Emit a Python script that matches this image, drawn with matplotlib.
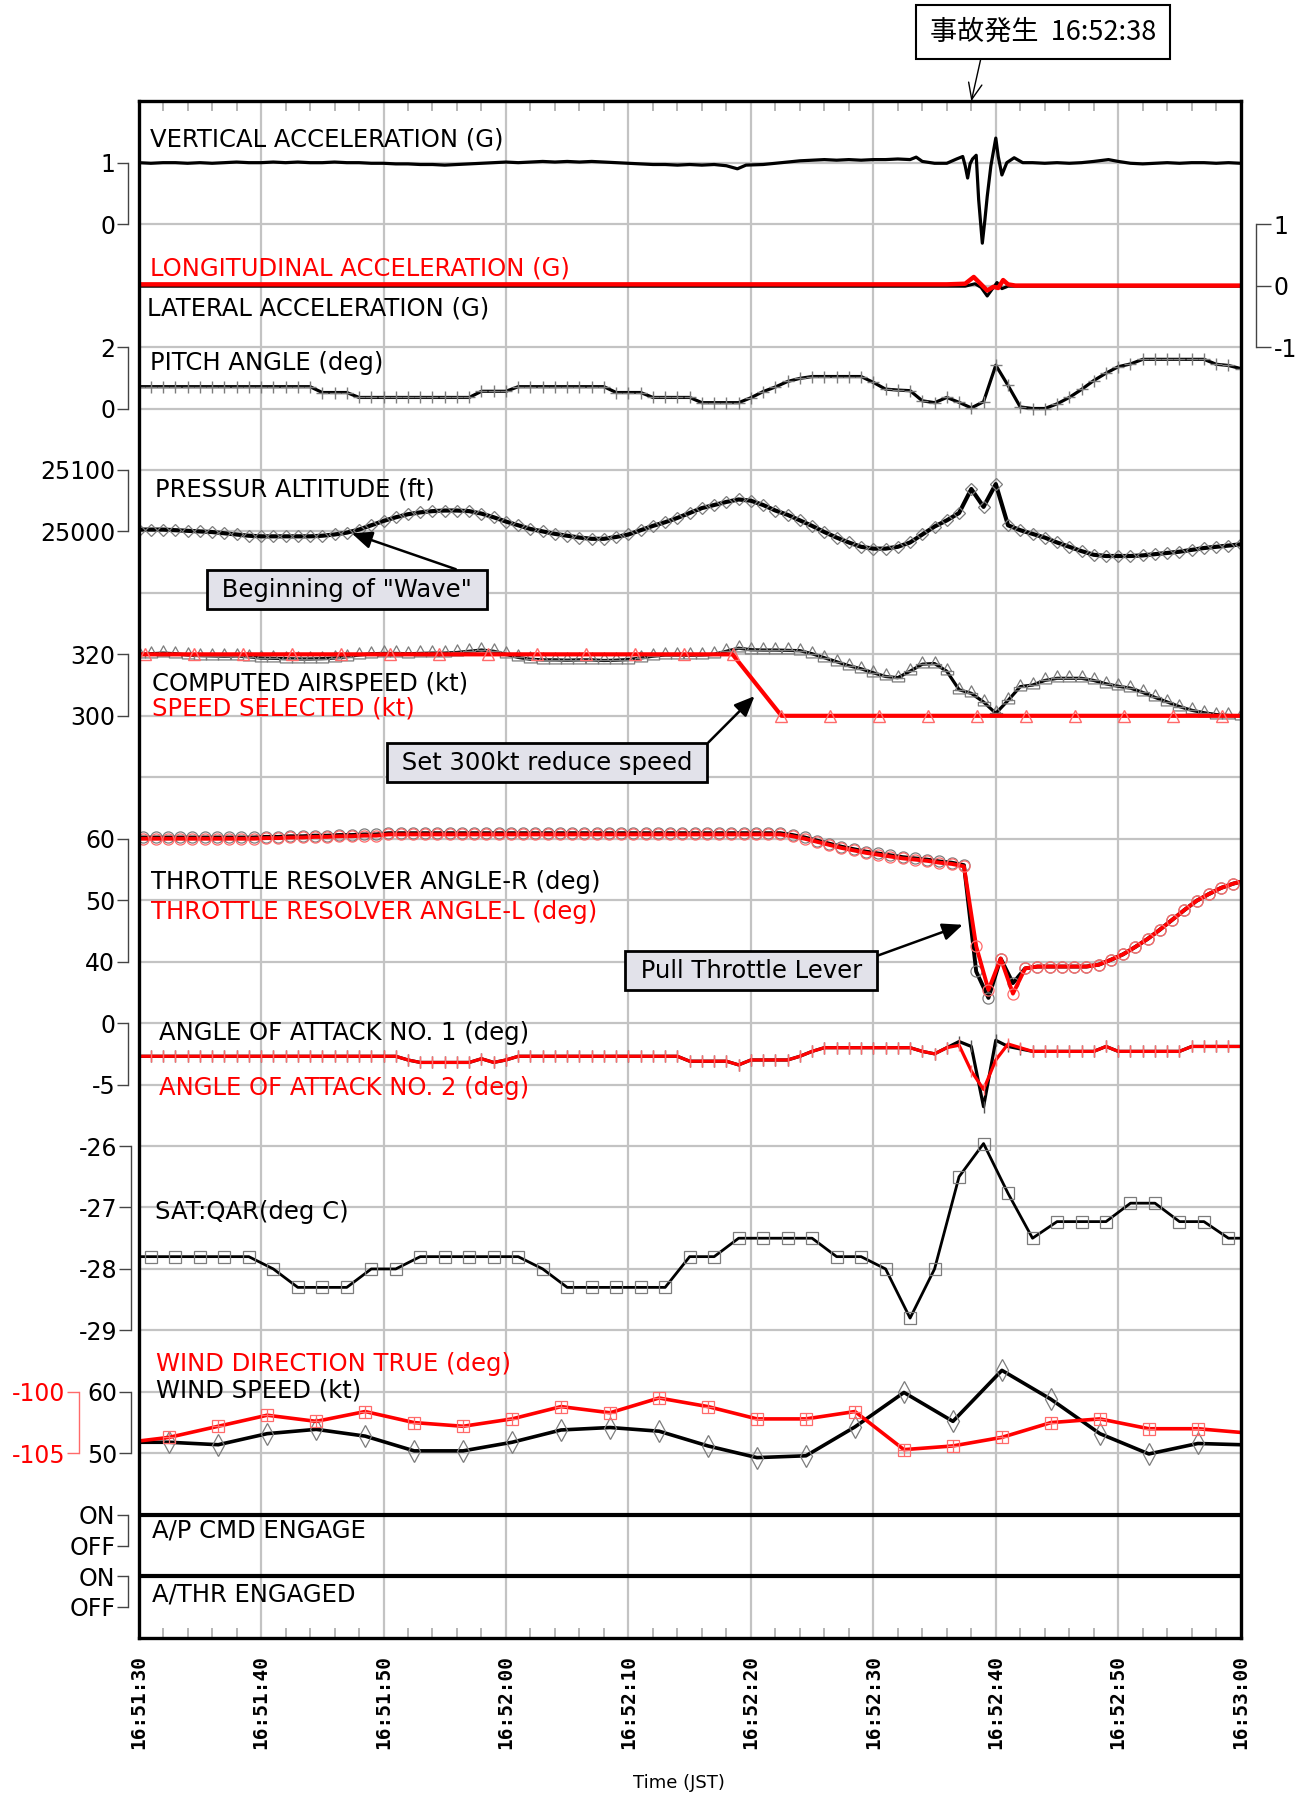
import numpy as np
import matplotlib
matplotlib.use("Agg")
import matplotlib.pyplot as plt
from matplotlib.path import Path
from matplotlib.ticker import MultipleLocator

plt.rcParams['font.family'] = ['DejaVu Sans']

# ---------------- data ----------------
TIME_TICKS = [0, 10, 20, 30, 40, 50, 60, 70, 80, 90]
TIME_LABELS = ["16:51:30", "16:51:40", "16:51:50", "16:52:00", "16:52:10",
               "16:52:20", "16:52:30", "16:52:40", "16:52:50", "16:53:00"]
EVENT_T = 68
EVENT_LABEL = "事故発生  16:52:38"

# vertical acceleration (G)
VA_T = [0,1,2,3,4,5,6,7,8,9,10,11,12,13,14,15,16,17,18,19,20,21,22,23,24,25,26,27,28,29,
        30,31,32,33,34,35,36,37,38,39,40,41,42,43,44,45,46,47,48,48.9,49.6,51,52,53,54,55,
        56,57,58,59,60,61,62,63,63.5,64,65,66,66.8,67.3,67.5,67.7,67.9,68.1,68.4,68.6,68.9,
        69.1,69.3,69.6,70.0,70.2,70.5,70.9,71.5,72.2,73,74,75,76,77,78,79.2,80,81,82,83,84,
        85,86,87,88,89,90]
VA = [1.00,0.99,1.00,1.00,0.99,1.00,0.99,1.00,1.01,1.00,
      1.00,1.01,1.00,1.01,1.00,1.00,1.01,1.00,1.00,0.99,
      0.99,0.98,0.98,0.97,0.97,0.96,0.97,0.98,0.99,1.00,
      1.01,1.00,1.01,1.02,1.01,1.02,1.01,1.02,1.01,1.00,
      0.99,0.98,0.97,0.97,0.96,0.97,0.96,0.97,0.95,0.90,0.96,
      0.97,0.99,1.01,1.03,1.04,1.05,1.04,1.05,1.04,1.05,1.05,1.06,1.05,
      1.09,1.02,0.99,0.99,
      1.06,1.10,0.95,0.75,0.98,1.06,1.12,0.40,-0.31,0.05,0.45,0.95,1.40,1.10,0.80,1.00,1.08,1.00,
      1.00,0.99,1.00,0.99,1.00,1.02,1.05,
      1.02,0.99,0.98,0.99,1.00,0.99,1.00,1.00,0.99,1.00,0.99]

# longitudinal (red) and lateral (black) acceleration (G)
LONG_T = [0, 20, 40, 60, 66, 67.5, 68.2, 68.7, 69.3, 69.8, 70.2, 70.6, 71.0, 71.6, 75, 90]
LONG = [0.02, 0.02, 0.02, 0.02, 0.02, 0.03, 0.14, 0.04, -0.08, -0.02, -0.04, 0.09, 0.02, 0.0, 0.0, 0.0]
LAT_T = [0, 30, 60, 67.5, 68.3, 68.8, 69.3, 69.7, 70.1, 70.5, 71, 90]
LAT = [-0.01, -0.01, -0.01, -0.01, 0.03, -0.03, -0.17, -0.06, 0.05, -0.05, -0.01, -0.01]

# 1-second samples
T1 = np.arange(0, 91, 1)
PITCH = [0.71,0.71,0.71,0.71,0.71,0.71,0.71,0.71,0.71,0.71,0.71,0.71,0.71,0.71,0.71,
         0.52,0.52,0.52,
         0.36,0.36,0.36,0.36,0.36,0.36,0.36,0.36,0.36,0.36,
         0.56,0.56,0.56,
         0.71,0.71,0.71,0.71,0.71,0.71,0.71,0.71,
         0.52,0.52,0.52,
         0.36,0.36,0.36,0.36,
         0.19,0.19,0.19,0.19,
         0.35,0.55,0.70,0.88,0.98,1.04,1.04,1.04,1.04,1.04,0.85,0.63,0.60,0.58,0.25,0.19,
         0.36,0.20,0.02,0.22,1.41,0.75,0.05,0.0,0.0,0.15,0.36,0.62,0.91,1.15,1.36,1.45,
         1.60,1.60,1.60,1.60,1.60,1.60,1.44,1.40,1.30]

ALT = [25003,25003,25003,25002,25001,25000,24999,24997,24995,24993,
       24992,24992,24992,24992,24992,24993,24995,24998,25003,25010,
       25017,25023,25028,25031,25033,25034,25034,25033,25029,25023,
       25016,25010,25004,25000,24996,24993,24990,24988,24988,24991,
       24995,25002,25009,25015,25022,25030,25038,25043,25048,25052,
       25050,25043,25034,25027,25018,25009,24999,24990,24982,24975,
       24972,24972,24975,24982,24995,25008,25018,25030,25069,25040,
       25077,25010,25002,24996,24990,24982,24975,24968,24962,24960,
       24960,24960,24961,24963,24965,24967,24970,24973,24975,24977,24979]

CAS = [320.0,320.2,320.4,320.2,319.8,319.6,319.5,319.4,319.5,319.2,
       318.8,318.7,318.6,318.5,318.5,318.6,318.8,319.2,319.8,320.2,
       320.3,320.3,320.2,320.3,320.4,320.4,320.6,321.0,321.4,321.0,
       320.0,319.0,318.4,318.2,318.2,318.1,318.2,318.2,318.0,318.1,
       318.3,318.8,319.4,319.8,319.8,319.7,319.8,320.0,321.0,322.0,
       321.5,321.4,321.4,321.3,321.2,320.2,318.9,317.6,316.3,315.3,
       314.0,312.8,312.4,314.5,316.8,317.0,314.5,308.5,307.3,304.5,
       300.8,305.0,309.5,310.0,311.5,312.2,312.2,312.2,311.5,310.4,
       309.6,309.0,307.6,306.0,304.5,303.0,301.8,301.0,300.4,300.1,300.0]

SPD_T = [0, 0.5, 4.5, 8.5, 12.5, 16.5, 20.5, 24.5, 28.5, 32.5, 36.5, 40.5, 44.5, 48.5,
         52.5, 56.5, 60.5, 64.5, 68.5, 72.5, 76.5, 80.5, 84.5, 88.5, 90]
SPD = [320, 320, 320, 320, 320, 320, 320, 320, 320, 320, 320, 320, 320, 320,
       300, 300, 300, 300, 300, 300, 300, 300, 300, 300, 300]

# throttle resolver angle, samples at k+0.4 s plus the two chart edges
TRA_T = np.concatenate([[0], np.arange(0.4, 90, 1.0), [90]])
TRA_R = [60.2,
         60.2,60.2,60.2,60.2,60.2,60.2,60.2,60.2,60.2,60.2,
         60.3,60.3,60.4,60.4,60.5,60.5,60.6,60.6,60.7,60.7,
         60.9,60.9,60.9,60.9,60.9,60.9,60.9,60.9,60.9,60.9,
         60.9,60.9,60.9,60.9,60.9,60.9,60.9,60.9,60.9,60.9,
         60.9,60.9,60.9,60.9,60.9,60.9,60.9,60.9,60.9,60.9,
         60.9,60.9,60.9,60.6,60.2,59.7,59.2,58.7,58.3,57.9,
         57.6,57.3,57.0,56.8,56.6,56.3,56.1,55.7,38.4,34.1,
         40.5,36.5,38.9,39.2,39.2,39.2,39.2,39.2,39.5,40.3,
         41.2,42.4,43.7,45.2,46.8,48.4,49.9,51.0,52.0,52.7,
         53.0]
TRA_L = [60.0,
         60.0,60.0,60.0,60.0,60.0,60.0,60.0,60.0,60.0,60.0,
         60.1,60.1,60.2,60.2,60.3,60.3,60.4,60.4,60.5,60.5,
         60.7,60.7,60.7,60.7,60.7,60.7,60.7,60.7,60.7,60.7,
         60.7,60.7,60.7,60.7,60.7,60.7,60.7,60.7,60.7,60.7,
         60.7,60.7,60.7,60.7,60.7,60.7,60.7,60.7,60.7,60.7,
         60.7,60.7,60.7,60.4,60.0,59.5,59.0,58.5,58.1,57.7,
         57.4,57.1,56.8,56.6,56.4,56.1,55.9,55.5,42.5,35.4,
         40.5,34.8,38.9,39.2,39.2,39.2,39.2,39.2,39.5,40.3,
         41.2,42.4,43.7,45.2,46.8,48.4,49.9,51.0,52.0,52.7,
         53.0]

AOA1 = [-2.7,-2.7,-2.7,-2.7,-2.7,-2.7,-2.7,-2.7,-2.7,-2.7,-2.7,-2.7,-2.7,-2.7,-2.7,-2.7,
        -2.7,-2.7,-2.7,-2.7,-2.7,-2.7,
        -3.0,-3.2,-3.2,-3.2,-3.2,-3.2,-2.9,-3.2,-3.0,
        -2.7,-2.7,-2.7,-2.7,-2.7,-2.7,-2.7,-2.7,-2.7,-2.7,-2.7,-2.7,-2.7,-2.7,
        -3.1,-3.1,-3.1,-3.1,-3.4,-3.0,-3.0,-3.0,-3.0,-2.7,-2.3,
        -2.0,-2.0,-2.0,-2.0,-2.0,-2.0,-2.0,-2.0,
        -2.3,-2.5,-2.0,-1.5,-1.9,-6.8,-1.4,-1.9,-2.1,
        -2.3,-2.3,-2.3,-2.3,-2.3,-2.3,-1.9,
        -2.3,-2.3,-2.3,-2.3,-2.3,-2.3,
        -1.9,-1.9,-1.9,-1.9,-1.9]
AOA2 = [-2.7,-2.7,-2.7,-2.7,-2.7,-2.7,-2.7,-2.7,-2.7,-2.7,-2.7,-2.7,-2.7,-2.7,-2.7,-2.7,
        -2.7,-2.7,-2.7,-2.7,-2.7,-2.7,
        -3.0,-3.2,-3.2,-3.2,-3.2,-3.2,-2.9,-3.2,-3.0,
        -2.7,-2.7,-2.7,-2.7,-2.7,-2.7,-2.7,-2.7,-2.7,-2.7,-2.7,-2.7,-2.7,-2.7,
        -3.1,-3.1,-3.1,-3.1,-3.4,-3.0,-3.0,-3.0,-3.0,-2.7,-2.3,
        -2.0,-2.0,-2.0,-2.0,-2.0,-2.0,-2.0,-2.0,
        -2.3,-2.5,-2.0,-1.8,-3.9,-5.4,-3.0,-1.7,-2.0,
        -2.3,-2.3,-2.3,-2.3,-2.3,-2.3,-1.9,
        -2.3,-2.3,-2.3,-2.3,-2.3,-2.3,
        -1.9,-1.9,-1.9,-1.9,-1.9]

SAT_T = np.concatenate([[0], np.arange(1, 90, 2), [90]])
SAT = [-27.8,
       -27.8,-27.8,-27.8,-27.8,-27.8,-28.0,-28.3,-28.3,-28.3,-28.0,
       -28.0,-27.8,-27.8,-27.8,-27.8,-27.8,-28.0,-28.3,-28.3,-28.3,
       -28.3,-28.3,-27.8,-27.8,-27.5,-27.5,-27.5,-27.5,-27.8,-27.8,
       -28.0,-28.8,-28.0,-26.5,-25.96,-26.77,-27.5,-27.23,-27.23,-27.23,
       -26.93,-26.93,-27.23,-27.23,-27.5,
       -27.5]

WIND_T = np.concatenate([[0], np.arange(2.5, 88, 4), [90]])
WSPD = [51.8, 51.8, 51.4, 53.2, 53.9, 52.8, 50.4, 50.4, 51.8, 53.8, 54.2, 53.6,
        51.2, 49.3, 49.6, 54.3, 59.9, 55.2, 63.5, 58.8, 53.2, 49.9, 51.6, 51.4]
WDIR = [-104.0, -103.7, -102.8, -101.9, -102.4, -101.6, -102.5, -102.8, -102.2, -101.2,
        -101.7, -100.5, -101.2, -102.2, -102.2, -101.6, -104.7, -104.4, -103.7, -102.5,
        -102.2, -103.0, -103.0, -103.3]

DISC_T = [0, 90]
AP_CMD = [1, 1]
ATHR = [1, 1]

# ---------------- figure ----------------
W, H = 1314, 1796
fig = plt.figure(figsize=(W / 100, H / 100), dpi=100)
RECT = [0.10548, 0.08814, 0.83874, 0.85551]
NROW = 25
FS_LBL = 17.5
FS_TICK = 17
GRAY = '#7c7c7c'
RED = '#ff0000'
PINK = '#ff6a6a'

main = fig.add_axes(RECT, label='main')
main.set_xlim(0, 90)
main.set_ylim(NROW, 0)
main.set_yticks(np.arange(1, NROW))
main.tick_params(axis='y', length=0, labelleft=False)
main.set_xticks(TIME_TICKS)
main.set_xticklabels(TIME_LABELS, rotation=90, fontfamily='DejaVu Sans Mono',
                     fontweight='bold', fontsize=14)
main.xaxis.set_minor_locator(MultipleLocator(2))
main.tick_params(axis='x', which='major', length=0, pad=12.5)
main.tick_params(axis='x', which='minor', direction='in', length=7.5, width=1.2,
                 color='#a9a9a9', top=True, bottom=True)
main.grid(True, which='major', color='#c3c3c3', lw=1.6)
for s in main.spines.values():
    s.set_visible(False)

_n = [0]


def chan_axes(ka, va, kb, vb):
    _n[0] += 1
    ax = fig.add_axes(RECT, label='ch%d' % _n[0])
    fa = (NROW - ka) / NROW
    fb = (NROW - kb) / NROW
    s = (va - vb) / (fa - fb)
    lo = va - s * fa
    ax.set_ylim(lo, lo + s)
    ax.set_xlim(0, 90)
    ax.patch.set_visible(False)
    for sp in ax.spines.values():
        sp.set_visible(False)
    ax.tick_params(axis='x', which='both', bottom=False, top=False, labelbottom=False)
    ax.set_yticks([])
    return ax


def bracket(ax, ticks, labels, color='black', side='left', offset_px=11, length_px=11,
            spcolor='#444444'):
    sp = ax.spines[side]
    sp.set_visible(True)
    sp.set_position(('outward', offset_px * 0.72))
    sp.set_bounds(min(ticks), max(ticks))
    sp.set_color(spcolor)
    sp.set_linewidth(1.0)
    ax.yaxis.set_ticks_position(side)
    ax.set_yticks(ticks)
    ax.set_yticklabels(labels)
    ax.tick_params(axis='y', direction='out', length=length_px * 0.72, width=1.0,
                   color=spcolor, labelcolor=color, labelsize=FS_TICK, pad=1)


def label(x, y, s, color='black'):
    main.text(x, y, s, transform=main.transAxes, ha='left', va='center',
              fontsize=FS_LBL, color=color)


# vertical acceleration
ax_va = chan_axes(1, 1, 2, 0)
bracket(ax_va, [0, 1], ['0', '1'])
ax_va.plot(VA_T, VA, color='black', lw=2.3, solid_joinstyle='round')
label(0.0099, 0.9752, 'VERTICAL ACCELERATION (G)')

# longitudinal / lateral acceleration (right scale)
ax_acc = chan_axes(2, 1, 3, 0)
bracket(ax_acc, [-1, 0, 1], ['-1', '0', '1'], side='right', offset_px=15, length_px=15)
ax_acc.tick_params(axis='y', labelleft=False, labelright=True, pad=2)
ax_acc.plot(LAT_T, LAT, color='black', lw=2.2)
ax_acc.plot(LONG_T, LONG, color=RED, lw=3.2)
label(0.0099, 0.8913, 'LONGITUDINAL ACCELERATION (G)', RED)
label(0.0080, 0.8652, 'LATERAL ACCELERATION (G)')

# pitch
ax_p = chan_axes(4, 2, 5, 0)
bracket(ax_p, [0, 2], ['0', '2'])
ax_p.plot(T1, PITCH, color='black', lw=2.3, marker='+', ms=8, mec=GRAY, mew=1.0)
label(0.0099, 0.8294, 'PITCH ANGLE (deg)')

# pressure altitude
ax_alt = chan_axes(6, 25100, 7, 25000)
bracket(ax_alt, [25000, 25100], ['25000', '25100'])
ax_alt.plot(T1, ALT, color='black', lw=3.0, marker='D', ms=6.5, mfc='none', mec=GRAY, mew=0.9)
label(0.0149, 0.7470, 'PRESSUR ALTITUDE (ft)')

# airspeed
cas_marker = Path([(-0.55, 0), (0, 1), (0.55, 0), (-0.55, 0),
                   (-0.8, 0), (0.8, 0), (0.8, -0.45), (-0.8, -0.45), (-0.8, 0)],
                  [Path.MOVETO, Path.LINETO, Path.LINETO, Path.CLOSEPOLY,
                   Path.MOVETO, Path.LINETO, Path.LINETO, Path.LINETO, Path.CLOSEPOLY])
ax_cas = chan_axes(9, 320, 10, 300)
bracket(ax_cas, [300, 320], ['300', '320'])
ax_cas.plot(T1, CAS, color='black', lw=2.3, marker=cas_marker, ms=11, mfc='none',
            mec=GRAY, mew=0.9)
ax_cas.plot(SPD_T, SPD, color=RED, lw=3.0, marker='^', ms=9, mfc='none', mec=PINK,
            mew=1.0, markevery=slice(1, -1))
label(0.0125, 0.6211, 'COMPUTED AIRSPEED (kt)')
label(0.0125, 0.6049, 'SPEED SELECTED (kt)', RED)

# throttle
ax_tra = chan_axes(12, 60, 13, 50)
bracket(ax_tra, [40, 50, 60], ['40', '50', '60'])
ax_tra.plot(TRA_T, TRA_R, color='black', lw=2.8, marker='o', ms=8, mfc='none', mec=GRAY,
            mew=0.9, markevery=slice(1, -1))
ax_tra.plot(TRA_T, TRA_L, color=RED, lw=2.8, marker='o', ms=8, mfc='none', mec=PINK,
            mew=0.9, markevery=slice(1, -1))
label(0.0110, 0.4920, 'THROTTLE RESOLVER ANGLE-R (deg)')
label(0.0110, 0.4725, 'THROTTLE RESOLVER ANGLE-L (deg)', RED)

# angle of attack
ax_aoa = chan_axes(15, 0, 16, -5)
bracket(ax_aoa, [-5, 0], ['-5', '0'])
ax_aoa.plot(T1, AOA1, color='black', lw=2.3, marker='|', ms=8.5, mec='#555555', mew=1.0)
ax_aoa.plot(T1, AOA2, color=RED, lw=2.3, marker='|', ms=8.5, mec=PINK, mew=1.0)
label(0.0185, 0.3934, 'ANGLE OF ATTACK NO. 1 (deg)')
label(0.0185, 0.3576, 'ANGLE OF ATTACK NO. 2 (deg)', RED)

# SAT
ax_sat = chan_axes(17, -26, 18, -27)
bracket(ax_sat, [-29, -28, -27, -26], ['-29', '-28', '-27', '-26'], offset_px=8, length_px=12)
ax_sat.plot(SAT_T, SAT, color='black', lw=2.0, marker='s', ms=8.5, mfc='none', mec=GRAY,
            mew=0.9, markevery=slice(1, -1))
label(0.0149, 0.2773, 'SAT:QAR(deg C)')

# wind
ax_ws = chan_axes(21, 60, 22, 50)
bracket(ax_ws, [50, 60], ['50', '60'], offset_px=8, length_px=12)
ax_wd = chan_axes(21, -100, 22, -105)
bracket(ax_wd, [-105, -100], ['-105', '-100'], color=RED, offset_px=60, length_px=12,
        spcolor=PINK)
ax_ws.plot(WIND_T, WSPD, color='black', lw=2.6, marker='d', ms=11, mfc='none', mec=GRAY,
           mew=0.9, markevery=slice(1, -1))
ax_wd.plot(WIND_T, WDIR, color=RED, lw=2.6, marker='s', ms=9, mfc='none', mec=PINK,
           mew=0.9, markevery=slice(1, -1))
ax_wd.plot(WIND_T[1:-1], WDIR[1:-1], ls='none', marker='+', ms=9, mec=PINK, mew=0.9)
label(0.0156, 0.1781, 'WIND DIRECTION TRUE (deg)', RED)
label(0.0156, 0.1608, 'WIND SPEED (kt)')

# discretes
ax_ap = chan_axes(23, 1, 23.5, 0)
bracket(ax_ap, [0, 1], ['OFF', 'ON'])
ax_ap.plot(DISC_T, AP_CMD, color='black', lw=3.0)
label(0.0125, 0.0696, 'A/P CMD ENGAGE')
ax_at = chan_axes(24, 1, 24.5, 0)
bracket(ax_at, [0, 1], ['OFF', 'ON'])
ax_at.plot(DISC_T, ATHR, color='black', lw=3.0)
label(0.0125, 0.0284, 'A/THR ENGAGED')

# ---------------- top overlay: frame & annotations ----------------
top = fig.add_axes(RECT, label='top')
top.set_xlim(0, 90)
top.set_ylim(NROW, 0)
top.patch.set_visible(False)
top.set_xticks([])
top.set_yticks([])
for s in top.spines.values():
    s.set_linewidth(2.4)
    s.set_color('black')

box_kw = dict(boxstyle='square,pad=0.3', fc='#e2e2ea', ec='black', lw=2.0)
arr_kw = dict(arrowstyle='-|>,head_length=0.7,head_width=0.3', color='black', lw=1.8,
              shrinkA=0, shrinkB=0, relpos=(1, 1))

top.annotate(' Beginning of "Wave" ', xy=(17.4, 24997), xycoords=ax_alt.transData,
             xytext=(0.1891, 0.6822), textcoords='axes fraction', ha='center', va='center',
             fontsize=FS_LBL, bbox=box_kw, arrowprops=arr_kw, annotation_clip=False)
top.annotate(' Set 300kt reduce speed ', xy=(50.3, 306.4), xycoords=ax_cas.transData,
             xytext=(0.3706, 0.5695), textcoords='axes fraction', ha='center', va='center',
             fontsize=FS_LBL, bbox=box_kw, arrowprops=arr_kw, annotation_clip=False)
top.annotate(' Pull Throttle Lever ', xy=(67.3, 46.0), xycoords=ax_tra.transData,
             xytext=(0.5557, 0.4342), textcoords='axes fraction', ha='center', va='center',
             fontsize=FS_LBL, bbox=box_kw, arrowprops=arr_kw, annotation_clip=False)

top.annotate(EVENT_LABEL, xy=(EVENT_T, 0), xycoords='data',
             xytext=(0.7938, 0.9822), textcoords='figure fraction', ha='center', va='center',
             fontsize=19.5, fontfamily=['Noto Sans CJK JP', 'DejaVu Sans'],
             bbox=dict(boxstyle='square,pad=0.5', fc='white', ec='black', lw=1.5),
             arrowprops=dict(arrowstyle='->,head_length=0.6,head_width=0.25', color='black',
                             lw=1.0, shrinkA=0, shrinkB=0, relpos=(0.238, 0)),
             annotation_clip=False)

fig.text(0.5167, 0.0072, 'Time (JST)', ha='center', va='center', fontsize=13)

fig.savefig('out.png', dpi=100)
